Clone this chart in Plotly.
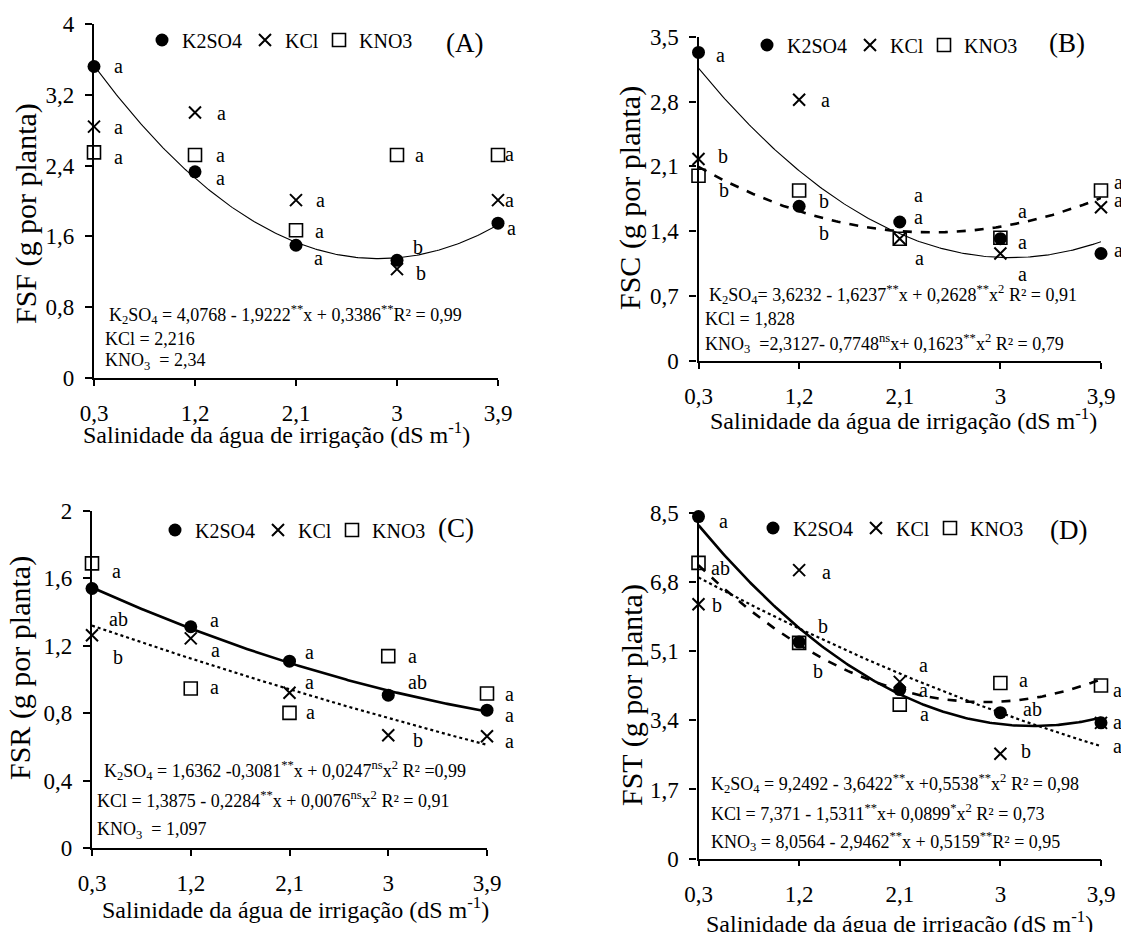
import numpy as np
import plotly.graph_objects as go

# ---------------- DATA ----------------
salinity = [0.3, 1.2, 2.1, 3.0, 3.9]
salinity_labels = ["0,3", "1,2", "2,1", "3", "3,9"]
series_names = ["K2SO4", "KCl", "KNO3"]

# Panel A - FSF
fsf_k2so4 = [3.52, 2.33, 1.50, 1.33, 1.75]
fsf_kcl = [2.84, 3.00, 2.01, 1.23, 2.01]
fsf_kno3 = [2.55, 2.52, 1.67, 2.52, 2.52]
fsf_k2so4_letters = ["a", "a", "a", "b", "a"]
fsf_kcl_letters = ["a", "a", "a", "b", "a"]
fsf_kno3_letters = ["a", "a", "a", "a", "a"]
fsf_k2so4_fit = [4.0768, -1.9222, 0.3386]
fsf_yticks = [0, 0.8, 1.6, 2.4, 3.2, 4]
fsf_yticklabels = ["0", "0,8", "1,6", "2,4", "3,2", "4"]

# Panel B - FSC
fsc_k2so4 = [3.33, 1.67, 1.50, 1.32, 1.16]
fsc_kcl = [2.18, 2.82, 1.32, 1.16, 1.66]
fsc_kno3 = [2.00, 1.84, 1.32, 1.33, 1.84]
fsc_k2so4_letters = ["a", "b", "a", "a", "a"]
fsc_kcl_letters = ["b", "a", "a", "a", "a"]
fsc_kno3_letters = ["b", "b", "a", "a", "a"]
fsc_k2so4_fit = [3.6232, -1.6237, 0.2628]
fsc_kno3_fit = [2.3127, -0.7748, 0.1623]
fsc_yticks = [0, 0.7, 1.4, 2.1, 2.8, 3.5]
fsc_yticklabels = ["0", "0,7", "1,4", "2,1", "2,8", "3,5"]

# Panel C - FSR
fsr_k2so4 = [1.54, 1.313, 1.109, 0.907, 0.818]
fsr_kcl = [1.263, 1.244, 0.921, 0.669, 0.663]
fsr_kno3 = [1.689, 0.947, 0.802, 1.139, 0.917]
fsr_k2so4_letters = ["ab", "a", "a", "ab", "a"]
fsr_kcl_letters = ["b", "a", "a", "b", "a"]
fsr_kno3_letters = ["a", "a", "a", "a", "a"]
fsr_k2so4_fit = [1.6362, -0.3081, 0.0247]
fsr_kcl_fit = [1.3875, -0.2284, 0.0076]
fsr_yticks = [0, 0.4, 0.8, 1.2, 1.6, 2]
fsr_yticklabels = ["0", "0,4", "0,8", "1,2", "1,6", "2"]

# Panel D - FST
fst_k2so4 = [8.42, 5.33, 4.16, 3.59, 3.34]
fst_kcl = [6.26, 7.10, 4.35, 2.58, 3.34]
fst_kno3 = [7.28, 5.31, 3.79, 4.32, 4.26]
fst_k2so4_letters = ["a", "b", "a", "ab", "a"]
fst_kcl_letters = ["b", "a", "a", "b", "a"]
fst_kno3_letters = ["ab", "b", "a", "a", "a"]
fst_k2so4_fit = [9.2492, -3.6422, 0.5538]
fst_kcl_fit = [7.371, -1.5311, 0.0899]
fst_kno3_fit = [8.0564, -2.9462, 0.5159]
fst_yticks = [0, 1.7, 3.4, 5.1, 6.8, 8.5]
fst_yticklabels = ["0", "1,7", "3,4", "5,1", "6,8", "8,5"]

x_title = "Salinidade da água de irrigação (dS m<sup>-1</sup>)"

# ---------------- STYLE ----------------
W, H = 1121, 932
SERIF = "Liberation Serif"
marker_styles = {
    "K2SO4": dict(symbol="circle", size=13, color="black"),
    "KCl": dict(symbol="x-thin", size=12, color="black", line=dict(width=2, color="black")),
    "KNO3": dict(symbol="square-open", size=13, color="black", line=dict(width=1.6, color="black")),
}
legend_entry_width = {"K2SO4": 58, "KCl": 29, "KNO3": 55}
fit_styles = {
    ("A", "K2SO4"): dict(width=1.1, dash="solid"),
    ("B", "K2SO4"): dict(width=1.1, dash="solid"),
    ("B", "KNO3"): dict(width=2.6, dash="dash"),
    ("C", "K2SO4"): dict(width=2.6, dash="solid"),
    ("C", "KCl"): dict(width=2.2, dash="dot"),
    ("D", "K2SO4"): dict(width=2.6, dash="solid"),
    ("D", "KCl"): dict(width=2.2, dash="dot"),
    ("D", "KNO3"): dict(width=2.6, dash="dash"),
}
# letter offsets (px right, px down) per series and point
letter_offsets = {
    "A": {"K2SO4": [(24, 0), (25, 6), (22, 13), (21, -13), (13, 5)],
          "KCl": [(24, 0), (26, 1), (24, 0), (24, 4), (11, 0)],
          "KNO3": [(24, 5), (25, 0), (23, 1), (22, 0), (11, -1)]},
    "B": {"K2SO4": [(22, 3), (25, 27), (19, -27), (22, 3), (17, -4)],
          "KCl": [(24, -3), (26, 0), (19, -22), (22, 20), (17, -7)],
          "KNO3": [(25, 14), (25, 10), (20, 19), (22, -27), (17, -9)]},
    "C": {"K2SO4": [(26, 30), (24, -7), (20, -9), (29, -13), (22, 5)],
          "KCl": [(26, 22), (25, 12), (20, -11), (30, 5), (22, 5)],
          "KNO3": [(24, 8), (24, -1), (21, -1), (24, 0), (22, 1)]},
    "D": {"K2SO4": [(25, 4), (24, -16), (24, 0), (32, -4), (16, -1)],
          "KCl": [(18, 1), (27, 2), (24, -17), (26, -3), (16, 23)],
          "KNO3": [(22, 5), (19, 28), (25, 9), (23, -3), (16, 5)]},
}

panels = [
    dict(key="A", ax="", px=(94, 498), py=(24, 378), ymax=4,
         vals={"K2SO4": fsf_k2so4, "KCl": fsf_kcl, "KNO3": fsf_kno3},
         letters={"K2SO4": fsf_k2so4_letters, "KCl": fsf_kcl_letters, "KNO3": fsf_kno3_letters},
         fits={"K2SO4": fsf_k2so4_fit},
         yticks=fsf_yticks, yticklabels=fsf_yticklabels, ytitle="FSF (g por planta)",
         ytitle_pos=(26, 214), xtitle_pos=(276, 433),
         legend="legend", legend_pos=(142, 40), tag="(A)", tag_pos=(464, 43),
         eq=[("K<sub>2</sub>SO<sub>4</sub> = 4,0768 - 1,9222<sup>**</sup>x + 0,3386<sup>**</sup>R² = 0,99", 107, 314),
             ("KCl = 2,216", 103, 339),
             ("KNO<sub>3</sub>\u00a0 = 2,34", 103, 362)]),
    dict(key="B", ax="2", px=(698.5, 1101), py=(36.7, 361), ymax=3.5,
         vals={"K2SO4": fsc_k2so4, "KCl": fsc_kcl, "KNO3": fsc_kno3},
         letters={"K2SO4": fsc_k2so4_letters, "KCl": fsc_kcl_letters, "KNO3": fsc_kno3_letters},
         fits={"K2SO4": fsc_k2so4_fit, "KNO3": fsc_kno3_fit},
         yticks=fsc_yticks, yticklabels=fsc_yticklabels, ytitle="FSC (g por planta)",
         ytitle_pos=(630, 198), xtitle_pos=(903, 419),
         legend="legend2", legend_pos=(747, 45), tag="(B)", tag_pos=(1067, 43),
         eq=[("K<sub>2</sub>SO<sub>4</sub>= 3,6232 - 1,6237<sup>**</sup>x + 0,2628<sup>**</sup>x<sup>2</sup> R² = 0,91", 707, 294),
             ("KCl = 1,828", 703, 319),
             ("KNO<sub>3</sub>\u00a0 =2,3127- 0,7748<sup>ns</sup>x+ 0,1623<sup>**</sup>x<sup>2</sup> R² = 0,79", 703, 343)]),
    dict(key="C", ax="3", px=(92, 487), py=(511, 848), ymax=2,
         vals={"K2SO4": fsr_k2so4, "KCl": fsr_kcl, "KNO3": fsr_kno3},
         letters={"K2SO4": fsr_k2so4_letters, "KCl": fsr_kcl_letters, "KNO3": fsr_kno3_letters},
         fits={"K2SO4": fsr_k2so4_fit, "KCl": fsr_kcl_fit},
         yticks=fsr_yticks, yticklabels=fsr_yticklabels, ytitle="FSR (g por planta)",
         ytitle_pos=(20, 668), xtitle_pos=(295, 908),
         legend="legend3", legend_pos=(155, 530), tag="(C)", tag_pos=(456, 528),
         eq=[("K<sub>2</sub>SO<sub>4</sub> = 1,6362 -0,3081<sup>**</sup>x + 0,0247<sup>ns</sup>x<sup>2</sup> R² =0,99", 102, 770),
             ("KCl = 1,3875 - 0,2284<sup>**</sup>x + 0,0076<sup>ns</sup>x<sup>2</sup> R² = 0,91", 95, 799),
             ("KNO<sub>3</sub>\u00a0 = 1,097", 95, 830)]),
    dict(key="D", ax="4", px=(698.5, 1101), py=(513.3, 858.5), ymax=8.5,
         vals={"K2SO4": fst_k2so4, "KCl": fst_kcl, "KNO3": fst_kno3},
         letters={"K2SO4": fst_k2so4_letters, "KCl": fst_kcl_letters, "KNO3": fst_kno3_letters},
         fits={"K2SO4": fst_k2so4_fit, "KCl": fst_kcl_fit, "KNO3": fst_kno3_fit},
         yticks=fst_yticks, yticklabels=fst_yticklabels, ytitle="FST (g por planta)",
         ytitle_pos=(632, 695), xtitle_pos=(899, 922),
         legend="legend4", legend_pos=(753, 528), tag="(D)", tag_pos=(1068, 530),
         eq=[("K<sub>2</sub>SO<sub>4</sub> = 9,2492 - 3,6422<sup>**</sup>x +0,5538<sup>**</sup>x<sup>2</sup> R² = 0,98", 709, 783),
             ("KCl = 7,371 - 1,5311<sup>**</sup>x+ 0,0899<sup>*</sup>x<sup>2</sup> R² = 0,73", 709, 812),
             ("KNO<sub>3</sub> = 8,0564 - 2,9462<sup>**</sup>x + 0,5159<sup>**</sup>R² = 0,95", 709, 841)]),
]

fig = go.Figure()
annotations = []
layout_updates = {}
xfit = np.linspace(salinity[0], salinity[-1], 200)


def fx(px):
    return px / W


def fy(py):
    return 1 - py / H


for p in panels:
    xa, ya = "x" + p["ax"], "y" + p["ax"]
    for name, coef in p["fits"].items():
        st = fit_styles[(p["key"], name)]
        yfit = coef[0] + coef[1] * xfit + coef[2] * xfit ** 2
        fig.add_trace(go.Scatter(x=xfit, y=yfit, mode="lines", xaxis=xa, yaxis=ya,
                                 line=dict(color="black", width=st["width"], dash=st["dash"]),
                                 showlegend=False, hoverinfo="skip", cliponaxis=False))
    for name in series_names:
        fig.add_trace(go.Scatter(x=salinity, y=p["vals"][name], mode="markers", name=name,
                                 xaxis=xa, yaxis=ya, marker=marker_styles[name],
                                 legend=p["legend"], legendwidth=legend_entry_width[name],
                                 cliponaxis=False))
        for i, letter in enumerate(p["letters"][name]):
            dx, dy = letter_offsets[p["key"]][name][i]
            annotations.append(dict(x=salinity[i], y=p["vals"][name][i], xref=xa, yref=ya,
                                    text=letter, showarrow=False, xshift=dx, yshift=-dy,
                                    xanchor="center", yanchor="middle",
                                    font=dict(family=SERIF, size=20, color="black")))
    xk = "xaxis" + p["ax"]
    yk = "yaxis" + p["ax"]
    layout_updates[xk] = dict(domain=[fx(p["px"][0]), fx(p["px"][1])], anchor=ya,
                              range=[salinity[0], salinity[-1]], tickvals=salinity,
                              ticktext=salinity_labels, showline=True, linecolor="black",
                              linewidth=1.6, ticks="outside", ticklen=6, tickwidth=1.5,
                              tickcolor="black", showgrid=False, zeroline=False,
                              automargin=False,
                              tickfont=dict(family=SERIF, size=23, color="black"),
                              ticklabelstandoff=8)
    layout_updates[yk] = dict(domain=[fy(p["py"][1]), fy(p["py"][0])], anchor=xa,
                              range=[0, p["ymax"]], tickvals=p["yticks"],
                              ticktext=p["yticklabels"], showline=True, linecolor="black",
                              linewidth=2.4, ticks="outside", ticklen=7, tickwidth=1.5,
                              tickcolor="black", showgrid=False, zeroline=False,
                              automargin=False,
                              tickfont=dict(family=SERIF, size=23, color="black"),
                              ticklabelstandoff=6)
    layout_updates[p["legend"]] = dict(x=fx(p["legend_pos"][0]), y=fy(p["legend_pos"][1]),
                                       xanchor="left", yanchor="middle", orientation="h",
                                       bgcolor="rgba(0,0,0,0)",
                                       font=dict(family=SERIF, size=20, color="black"))
    annotations.append(dict(x=fx(p["ytitle_pos"][0]), y=fy(p["ytitle_pos"][1]), xref="paper",
                            yref="paper", text=p["ytitle"], textangle=-90, showarrow=False,
                            xanchor="center", yanchor="middle",
                            font=dict(family=SERIF, size=30, color="black")))
    annotations.append(dict(x=fx(p["xtitle_pos"][0]), y=fy(p["xtitle_pos"][1]), xref="paper",
                            yref="paper", text=x_title, showarrow=False,
                            xanchor="center", yanchor="middle",
                            font=dict(family=SERIF, size=24, color="black")))
    annotations.append(dict(x=fx(p["tag_pos"][0]), y=fy(p["tag_pos"][1]), xref="paper",
                            yref="paper", text=p["tag"], showarrow=False,
                            xanchor="center", yanchor="middle",
                            font=dict(family=SERIF, size=27, color="black")))
    for text, ex, ey in p["eq"]:
        annotations.append(dict(x=fx(ex), y=fy(ey), xref="paper", yref="paper", text=text,
                                showarrow=False, xanchor="left", yanchor="middle",
                                font=dict(family=SERIF, size=18, color="black")))

fig.update_layout(width=W, height=H, margin=dict(l=0, r=0, t=0, b=0, autoexpand=False),
                  paper_bgcolor="white", plot_bgcolor="white",
                  font=dict(family=SERIF, color="black"),
                  annotations=annotations, **layout_updates)

fig.write_html("out.html", config={"displayModeBar": False},
               post_script="document.body.style.margin='0';")
